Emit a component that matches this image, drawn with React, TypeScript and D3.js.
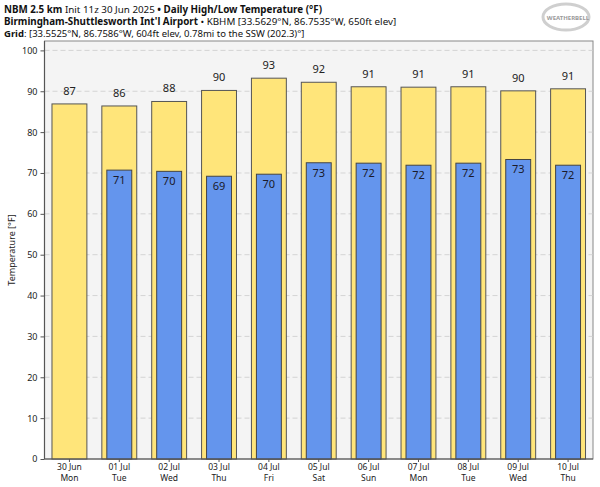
import { useEffect, useRef } from 'react';
import * as d3 from 'd3';

const dates = ['30 Jun', '01 Jul', '02 Jul', '03 Jul', '04 Jul', '05 Jul', '06 Jul', '07 Jul', '08 Jul', '09 Jul', '10 Jul'];
const weekdays = ['Mon', 'Tue', 'Wed', 'Thu', 'Fri', 'Sat', 'Sun', 'Mon', 'Tue', 'Wed', 'Thu'];
const highs = [86.9, 86.4, 87.5, 90.2, 93.2, 92.2, 91.1, 91.0, 91.1, 90.1, 90.6];
const lows: (number | null)[] = [null, 70.7, 70.4, 69.2, 69.7, 72.5, 72.4, 71.9, 72.4, 73.3, 71.9];
const yTicks = [0, 10, 20, 30, 40, 50, 60, 70, 80, 90, 100];

export default function App() {
  const svgRef = useRef<SVGSVGElement>(null);

  useEffect(() => {
    if (!svgRef.current) return;
    const svg = d3.select(svgRef.current);
    svg.selectAll('*').remove();

    const width = 600;
    const height = 487;
    const margin = { top: 41, right: 7, bottom: 28, left: 44.5 };
    const chartWidth = width - margin.left - margin.right;
    const chartHeight = height - margin.top - margin.bottom;
    const font = '"Noto Sans", "Open Sans", sans-serif';

    svg.attr('width', width).attr('height', height).style('font-family', font);
    svg.append('rect').attr('width', width).attr('height', height).attr('fill', '#fff');

    // header
    const header = [
      [
        { t: 'NBM 2.5 km', b: true },
        { t: ' Init 11z 30 Jun 2025 ', b: false },
        { t: '• Daily High/Low Temperature (°F)', b: true },
      ],
      [
        { t: 'Birmingham-Shuttlesworth Int\'l Airport', b: true },
        { t: ' • KBHM [33.5629°N, 86.7535°W, 650ft elev]', b: false },
      ],
      [
        { t: 'Grid', b: true },
        { t: ': [33.5525°N, 86.7586°W, 604ft elev, 0.78mi to the SSW (202.3)°]', b: false },
      ],
    ];
    header.forEach((parts, i) => {
      const txt = svg
        .append('text')
        .attr('x', 4)
        .attr('y', 13 + i * 12)
        .style('font-size', i === 2 ? '9.5px' : '9.8px')
        .style('fill', '#111');
      parts.forEach((p) => {
        txt
          .append('tspan')
          .style('font-weight', p.b ? 'bold' : 'normal')
          .text(p.t);
      });
    });

    // logo approximation
    const logo = svg.append('g').attr('transform', 'translate(566, 17)');
    logo
      .append('ellipse')
      .attr('rx', 23)
      .attr('ry', 13)
      .attr('fill', 'none')
      .attr('stroke', '#cfcfcf')
      .attr('stroke-width', 3);
    logo
      .append('text')
      .attr('x', 2)
      .attr('y', 3)
      .attr('text-anchor', 'middle')
      .style('font-size', '6px')
      .style('font-weight', 'bold')
      .style('fill', '#9a9a9a')
      .text('WEATHERBELL');

    const g = svg.append('g').attr('transform', `translate(${margin.left}, ${margin.top})`);

    const x = d3.scaleBand().domain(dates).range([0, chartWidth]).paddingInner(0).paddingOuter(0);
    const y = d3.scaleLinear().domain([0, 102.3]).range([chartHeight, 0]);

    g.append('rect')
      .attr('width', chartWidth)
      .attr('height', chartHeight)
      .attr('fill', '#f4f4f4')
      .attr('stroke', '#888')
      .attr('stroke-width', 1);

    // grid
    g.selectAll('.grid')
      .data(yTicks.filter((d) => d > 0))
      .enter()
      .append('line')
      .attr('x1', 0)
      .attr('x2', chartWidth)
      .attr('y1', (d) => y(d))
      .attr('y2', (d) => y(d))
      .attr('stroke', '#cccccc')
      .attr('stroke-width', 0.8)
      .attr('stroke-dasharray', '5,3');

    const bw = x.bandwidth();
    const highW = bw * 0.7;
    const lowW = bw * 0.5;

    // high bars
    g.selectAll('.high')
      .data(highs)
      .enter()
      .append('rect')
      .attr('x', (d, i) => x(dates[i])! + (bw - highW) / 2)
      .attr('y', (d) => y(d))
      .attr('width', highW)
      .attr('height', (d) => chartHeight - y(d))
      .attr('fill', '#ffe57a')
      .attr('stroke', '#555')
      .attr('stroke-width', 1);

    g.selectAll('.high-label')
      .data(highs)
      .enter()
      .append('text')
      .attr('x', (d, i) => x(dates[i])! + bw / 2)
      .attr('y', (d) => y(d) - 9)
      .attr('text-anchor', 'middle')
      .style('font-size', '11px')
      .style('fill', '#222')
      .text((d) => Math.round(d));

    const lowData = lows
      .map((v, i) => ({ v, i }))
      .filter((d) => d.v !== null) as { v: number; i: number }[];

    g.selectAll('.low')
      .data(lowData)
      .enter()
      .append('rect')
      .attr('x', (d) => x(dates[d.i])! + (bw - lowW) / 2)
      .attr('y', (d) => y(d.v))
      .attr('width', lowW)
      .attr('height', (d) => chartHeight - y(d.v))
      .attr('fill', '#6495ed')
      .attr('stroke', '#444')
      .attr('stroke-width', 1);

    g.selectAll('.low-label')
      .data(lowData)
      .enter()
      .append('text')
      .attr('x', (d) => x(dates[d.i])! + bw / 2)
      .attr('y', (d) => y(d.v) + 14)
      .attr('text-anchor', 'middle')
      .style('font-size', '11px')
      .style('fill', '#1a1a2a')
      .text((d) => Math.round(d.v));

    // y axis
    const yAxis = d3.axisLeft(y).tickValues(yTicks).tickSize(4).tickPadding(3);
    const yg = g.append('g').call(yAxis);
    yg.selectAll('.tick line').attr('stroke', '#555');
    yg.selectAll('.tick text').style('font-size', '9px').style('fill', '#222').style('font-family', font);
    yg.select('.domain').remove();
    g.append('line').attr('x1', 0).attr('x2', 0).attr('y1', 0).attr('y2', chartHeight).attr('stroke', '#555').attr('stroke-width', 1.2);

    // x axis
    const xAxis = d3.axisBottom(x).tickSize(3).tickFormat(() => '');
    const xg = g.append('g').attr('transform', `translate(0, ${chartHeight})`).call(xAxis);
    xg.select('.domain').remove();
    xg.selectAll('.tick line').attr('stroke', '#555');
    g.append('line').attr('x1', 0).attr('x2', chartWidth).attr('y1', chartHeight).attr('y2', chartHeight).attr('stroke', '#555').attr('stroke-width', 1.2);

    g.selectAll('.xlab')
      .data(dates)
      .enter()
      .append('text')
      .attr('x', (d) => x(d)! + bw / 2)
      .attr('y', chartHeight + 10.5)
      .attr('text-anchor', 'middle')
      .style('font-size', '8.5px')
      .style('fill', '#222')
      .text((d) => d);

    g.selectAll('.xlab2')
      .data(weekdays)
      .enter()
      .append('text')
      .attr('x', (d, i) => x(dates[i])! + bw / 2)
      .attr('y', chartHeight + 21.5)
      .attr('text-anchor', 'middle')
      .style('font-size', '8.5px')
      .style('fill', '#222')
      .text((d) => d);

    svg
      .append('text')
      .attr('transform', `translate(15, ${margin.top + chartHeight / 2}) rotate(-90)`)
      .attr('text-anchor', 'middle')
      .style('font-size', '9px')
      .style('fill', '#222')
      .text('Temperature [°F]');
  }, []);

  return <svg ref={svgRef} style={{ display: 'block', position: 'absolute', left: 0, top: 0 }} />;
}
